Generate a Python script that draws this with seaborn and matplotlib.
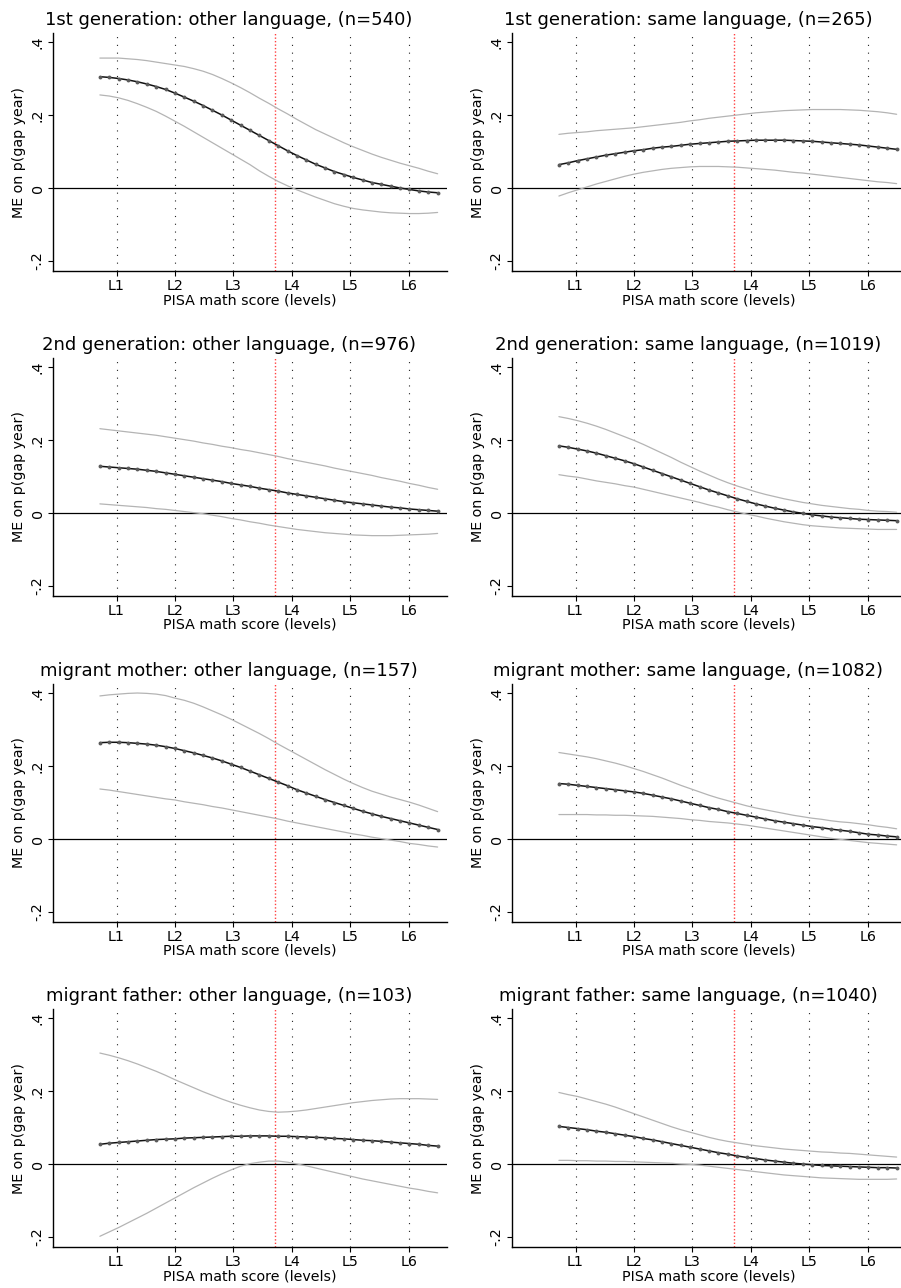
import matplotlib
matplotlib.use("Agg")
import matplotlib.pyplot as plt
import seaborn as sns

# ---------------- data ----------------
scores = [340, 350, 360, 370, 380, 390, 400, 410, 420, 430, 440, 450, 460,
          470, 480, 490, 500, 510, 520, 530, 540, 550, 560, 570, 580, 590,
          600, 610, 620, 630, 640, 650, 660, 670, 680, 690, 700]
level_bounds = [357.77, 420.07, 482.38, 544.68, 606.99, 669.30]
level_labels = ["L1", "L2", "L3", "L4", "L5", "L6"]
mean_score = 526.5
ytick_vals = [-0.2, 0.0, 0.2, 0.4]
ytick_labels = ["-.2", "0", ".2", ".4"]

titles = ["1st generation: other language, (n=540)",
          "1st generation: same language, (n=265)",
          "2nd generation: other language, (n=976)",
          "2nd generation: same language, (n=1019)",
          "migrant mother: other language, (n=157)",
          "migrant mother: same language, (n=1082)",
          "migrant father: other language, (n=103)",
          "migrant father: same language, (n=1040)"]

me_1st_other = [0.305,0.303,0.300,0.296,0.291,0.285,0.278,0.270,0.260,0.249,0.238,0.226,0.213,0.200,0.186,0.172,0.158,0.144,0.130,0.116,0.102,0.089,0.077,0.065,0.055,0.045,0.037,0.029,0.022,0.015,0.010,0.005,0.000,-0.004,-0.008,-0.011,-0.013]
hi_1st_other = [0.356,0.356,0.356,0.354,0.352,0.349,0.345,0.341,0.337,0.333,0.327,0.320,0.311,0.300,0.288,0.275,0.261,0.246,0.232,0.217,0.203,0.188,0.174,0.160,0.148,0.136,0.124,0.113,0.103,0.093,0.084,0.076,0.068,0.061,0.054,0.046,0.039]
lo_1st_other = [0.255,0.252,0.247,0.240,0.231,0.221,0.210,0.197,0.183,0.169,0.154,0.139,0.124,0.109,0.094,0.079,0.064,0.047,0.032,0.018,0.006,-0.005,-0.015,-0.025,-0.034,-0.043,-0.050,-0.056,-0.060,-0.063,-0.066,-0.068,-0.069,-0.070,-0.070,-0.069,-0.067]

me_1st_same = [0.064,0.069,0.075,0.080,0.085,0.090,0.094,0.098,0.102,0.105,0.109,0.112,0.114,0.117,0.120,0.122,0.124,0.126,0.128,0.129,0.130,0.131,0.131,0.131,0.131,0.130,0.129,0.128,0.126,0.124,0.122,0.120,0.118,0.115,0.112,0.109,0.106]
hi_1st_same = [0.147,0.150,0.152,0.154,0.157,0.159,0.161,0.163,0.165,0.168,0.171,0.174,0.177,0.180,0.184,0.187,0.191,0.194,0.197,0.200,0.203,0.206,0.208,0.210,0.212,0.213,0.214,0.215,0.215,0.215,0.215,0.214,0.213,0.211,0.209,0.206,0.202]
lo_1st_same = [-0.022,-0.013,-0.005,0.003,0.011,0.018,0.025,0.032,0.038,0.043,0.047,0.051,0.054,0.056,0.058,0.059,0.059,0.059,0.058,0.057,0.055,0.053,0.051,0.049,0.046,0.043,0.041,0.038,0.035,0.032,0.029,0.026,0.023,0.020,0.017,0.015,0.012]

me_2nd_other = [0.128,0.126,0.124,0.122,0.120,0.117,0.114,0.110,0.106,0.102,0.098,0.094,0.090,0.086,0.081,0.077,0.073,0.068,0.064,0.060,0.055,0.051,0.047,0.043,0.039,0.035,0.031,0.028,0.025,0.022,0.019,0.016,0.014,0.011,0.009,0.007,0.005]
hi_2nd_other = [0.231,0.228,0.225,0.222,0.219,0.216,0.213,0.209,0.205,0.201,0.197,0.192,0.188,0.183,0.179,0.174,0.170,0.165,0.160,0.155,0.149,0.144,0.139,0.134,0.129,0.123,0.118,0.113,0.108,0.103,0.097,0.092,0.087,0.081,0.076,0.070,0.065]
lo_2nd_other = [0.025,0.023,0.021,0.019,0.017,0.015,0.012,0.010,0.007,0.004,0.001,-0.002,-0.006,-0.010,-0.015,-0.019,-0.024,-0.028,-0.033,-0.037,-0.041,-0.045,-0.048,-0.051,-0.054,-0.056,-0.058,-0.060,-0.061,-0.062,-0.062,-0.062,-0.061,-0.060,-0.059,-0.058,-0.056]

me_2nd_same = [0.184,0.180,0.175,0.170,0.164,0.157,0.150,0.143,0.135,0.126,0.117,0.108,0.099,0.090,0.081,0.072,0.063,0.055,0.047,0.039,0.032,0.025,0.019,0.013,0.008,0.003,-0.001,-0.005,-0.008,-0.011,-0.013,-0.015,-0.017,-0.018,-0.019,-0.020,-0.021]
hi_2nd_same = [0.264,0.259,0.253,0.246,0.238,0.229,0.219,0.209,0.199,0.188,0.176,0.164,0.152,0.139,0.127,0.115,0.104,0.093,0.083,0.074,0.066,0.058,0.051,0.045,0.039,0.034,0.029,0.025,0.021,0.018,0.015,0.012,0.010,0.007,0.005,0.004,0.002]
lo_2nd_same = [0.105,0.101,0.098,0.093,0.088,0.084,0.080,0.075,0.071,0.065,0.059,0.053,0.047,0.041,0.035,0.029,0.022,0.016,0.009,0.003,-0.003,-0.008,-0.014,-0.019,-0.024,-0.028,-0.032,-0.035,-0.037,-0.039,-0.041,-0.042,-0.043,-0.044,-0.045,-0.045,-0.045]

me_mother_other = [0.264,0.265,0.265,0.264,0.262,0.260,0.257,0.253,0.248,0.242,0.236,0.229,0.222,0.214,0.205,0.196,0.186,0.176,0.166,0.156,0.146,0.135,0.126,0.117,0.108,0.100,0.092,0.084,0.076,0.069,0.062,0.056,0.050,0.044,0.038,0.032,0.026]
hi_mother_other = [0.392,0.395,0.397,0.399,0.400,0.399,0.397,0.393,0.386,0.380,0.372,0.362,0.351,0.340,0.328,0.315,0.302,0.289,0.275,0.260,0.246,0.232,0.218,0.204,0.190,0.177,0.164,0.152,0.141,0.131,0.123,0.115,0.108,0.101,0.093,0.084,0.075]
lo_mother_other = [0.137,0.134,0.130,0.126,0.122,0.118,0.114,0.110,0.107,0.102,0.098,0.094,0.089,0.085,0.080,0.075,0.070,0.065,0.060,0.055,0.049,0.044,0.039,0.034,0.029,0.024,0.019,0.014,0.010,0.005,0.001,-0.003,-0.007,-0.012,-0.015,-0.019,-0.022]

me_mother_same = [0.152,0.150,0.147,0.144,0.141,0.138,0.135,0.132,0.129,0.125,0.120,0.115,0.110,0.104,0.098,0.092,0.086,0.081,0.075,0.070,0.065,0.060,0.055,0.050,0.046,0.042,0.038,0.034,0.031,0.027,0.024,0.021,0.017,0.013,0.011,0.008,0.006]
hi_mother_same = [0.237,0.233,0.229,0.225,0.220,0.214,0.208,0.201,0.193,0.185,0.176,0.167,0.157,0.147,0.138,0.129,0.120,0.112,0.105,0.098,0.091,0.085,0.080,0.075,0.070,0.065,0.061,0.057,0.054,0.050,0.047,0.045,0.042,0.039,0.035,0.032,0.028]
lo_mother_same = [0.067,0.067,0.067,0.067,0.066,0.066,0.065,0.065,0.064,0.063,0.062,0.060,0.058,0.056,0.053,0.051,0.048,0.046,0.044,0.041,0.038,0.034,0.030,0.026,0.022,0.018,0.014,0.010,0.006,0.002,-0.001,-0.004,-0.007,-0.010,-0.012,-0.014,-0.016]

me_father_other = [0.054,0.057,0.059,0.061,0.063,0.065,0.067,0.068,0.069,0.071,0.072,0.073,0.074,0.075,0.076,0.076,0.077,0.077,0.077,0.076,0.076,0.075,0.074,0.073,0.072,0.070,0.069,0.067,0.065,0.064,0.062,0.060,0.058,0.056,0.054,0.051,0.049]
hi_father_other = [0.304,0.298,0.291,0.283,0.274,0.264,0.254,0.243,0.231,0.220,0.209,0.198,0.188,0.178,0.169,0.161,0.154,0.148,0.144,0.142,0.143,0.145,0.148,0.152,0.156,0.160,0.164,0.168,0.171,0.174,0.176,0.178,0.179,0.179,0.179,0.178,0.177]
lo_father_other = [-0.198,-0.186,-0.174,-0.161,-0.148,-0.135,-0.121,-0.107,-0.093,-0.079,-0.065,-0.052,-0.039,-0.027,-0.016,-0.006,0.001,0.005,0.008,0.008,0.005,0.000,-0.005,-0.011,-0.017,-0.023,-0.029,-0.035,-0.041,-0.046,-0.051,-0.056,-0.061,-0.066,-0.070,-0.075,-0.079]

me_father_same = [0.103,0.100,0.097,0.094,0.090,0.087,0.083,0.079,0.075,0.070,0.066,0.061,0.056,0.051,0.046,0.041,0.036,0.031,0.027,0.022,0.018,0.015,0.011,0.008,0.005,0.002,0.000,-0.002,-0.004,-0.005,-0.006,-0.007,-0.008,-0.009,-0.010,-0.010,-0.011]
hi_father_same = [0.196,0.190,0.185,0.178,0.171,0.164,0.156,0.147,0.138,0.129,0.120,0.111,0.102,0.094,0.087,0.080,0.073,0.067,0.062,0.058,0.054,0.050,0.047,0.044,0.041,0.039,0.037,0.035,0.033,0.032,0.030,0.029,0.027,0.025,0.023,0.021,0.019]
lo_father_same = [0.010,0.010,0.009,0.009,0.008,0.008,0.007,0.007,0.006,0.005,0.004,0.003,0.002,0.000,-0.001,-0.003,-0.006,-0.009,-0.012,-0.015,-0.018,-0.021,-0.024,-0.027,-0.030,-0.032,-0.034,-0.036,-0.038,-0.039,-0.040,-0.041,-0.042,-0.042,-0.042,-0.042,-0.041]

panels = [
    (me_1st_other, hi_1st_other, lo_1st_other),
    (me_1st_same, hi_1st_same, lo_1st_same),
    (me_2nd_other, hi_2nd_other, lo_2nd_other),
    (me_2nd_same, hi_2nd_same, lo_2nd_same),
    (me_mother_other, hi_mother_other, lo_mother_other),
    (me_mother_same, hi_mother_same, lo_mother_same),
    (me_father_other, hi_father_other, lo_father_other),
    (me_father_same, hi_father_same, lo_father_same),
]
for p in panels:
    for s in p:
        assert len(s) == len(scores), len(s)

# ---------------- style ----------------
sns.set_style("white")
plt.rcParams['font.family'] = ['DejaVu Sans']
plt.rcParams['axes.linewidth'] = 1.0
plt.rcParams['text.color'] = 'black'
plt.rcParams['axes.labelcolor'] = 'black'
plt.rcParams['xtick.color'] = 'black'
plt.rcParams['ytick.color'] = 'black'
plt.rcParams['axes.edgecolor'] = 'black'

W, H = 901, 1288
fig = plt.figure(figsize=(W / 100, H / 100), dpi=100)
col_x = [53, 512]
row_bottom = [271, 596, 922, 1247]
ax_w, ax_h = 394, 238

for i, (me, hi, lo) in enumerate(panels):
    r, c = divmod(i, 2)
    ax = fig.add_axes([col_x[c] / W, 1 - row_bottom[r] / H, ax_w / W, ax_h / H])
    ax.set_facecolor('white')
    ax.set_xlim(290, 710)
    ax.set_ylim(-0.2274, 0.4247)

    for xb in level_bounds:
        ax.axvline(xb, color='#222222', lw=0.8, ls=(0, (1, 6)), zorder=1)
    ax.axvline(mean_score, color='#ff4040', lw=1.0, ls=(0, (1, 1.5)), zorder=1)
    ax.axhline(0, color='black', lw=0.9, zorder=2)

    sns.lineplot(x=scores, y=hi, ax=ax, color='#b4b4b4', lw=0.9, zorder=3)
    sns.lineplot(x=scores, y=lo, ax=ax, color='#b4b4b4', lw=0.9, zorder=3)
    sns.lineplot(x=scores, y=me, ax=ax, color='#111111', lw=1.1, zorder=4,
                 marker='o', markersize=2.8, markeredgewidth=0,
                 markerfacecolor='#5a5a5a')

    sns.despine(ax=ax)

    ax.set_xticks(level_bounds)
    ax.set_xticklabels(level_labels)
    ax.set_yticks(ytick_vals)
    ax.set_yticklabels(ytick_labels, rotation=90, va='center')
    ax.tick_params(axis='both', direction='out', length=3.5, width=0.8,
                   color='black', labelcolor='black', labelsize=10.3,
                   pad=2.5, left=True, bottom=True)

    ax.set_xlabel("PISA math score (levels)", fontsize=10.3, color='black')
    ax.set_ylabel("ME on p(gap year)", fontsize=10.3, color='black')
    ax.xaxis.set_label_coords(0.5, -22 / ax_h)
    ax.yaxis.set_label_coords(-27 / ax_w, 0.5)

    ax.text(0.447, 1 + 8 / ax_h, titles[i], transform=ax.transAxes,
            ha='center', va='baseline', fontsize=13, color='black')

fig.savefig("out.png", dpi=100, facecolor='white')
